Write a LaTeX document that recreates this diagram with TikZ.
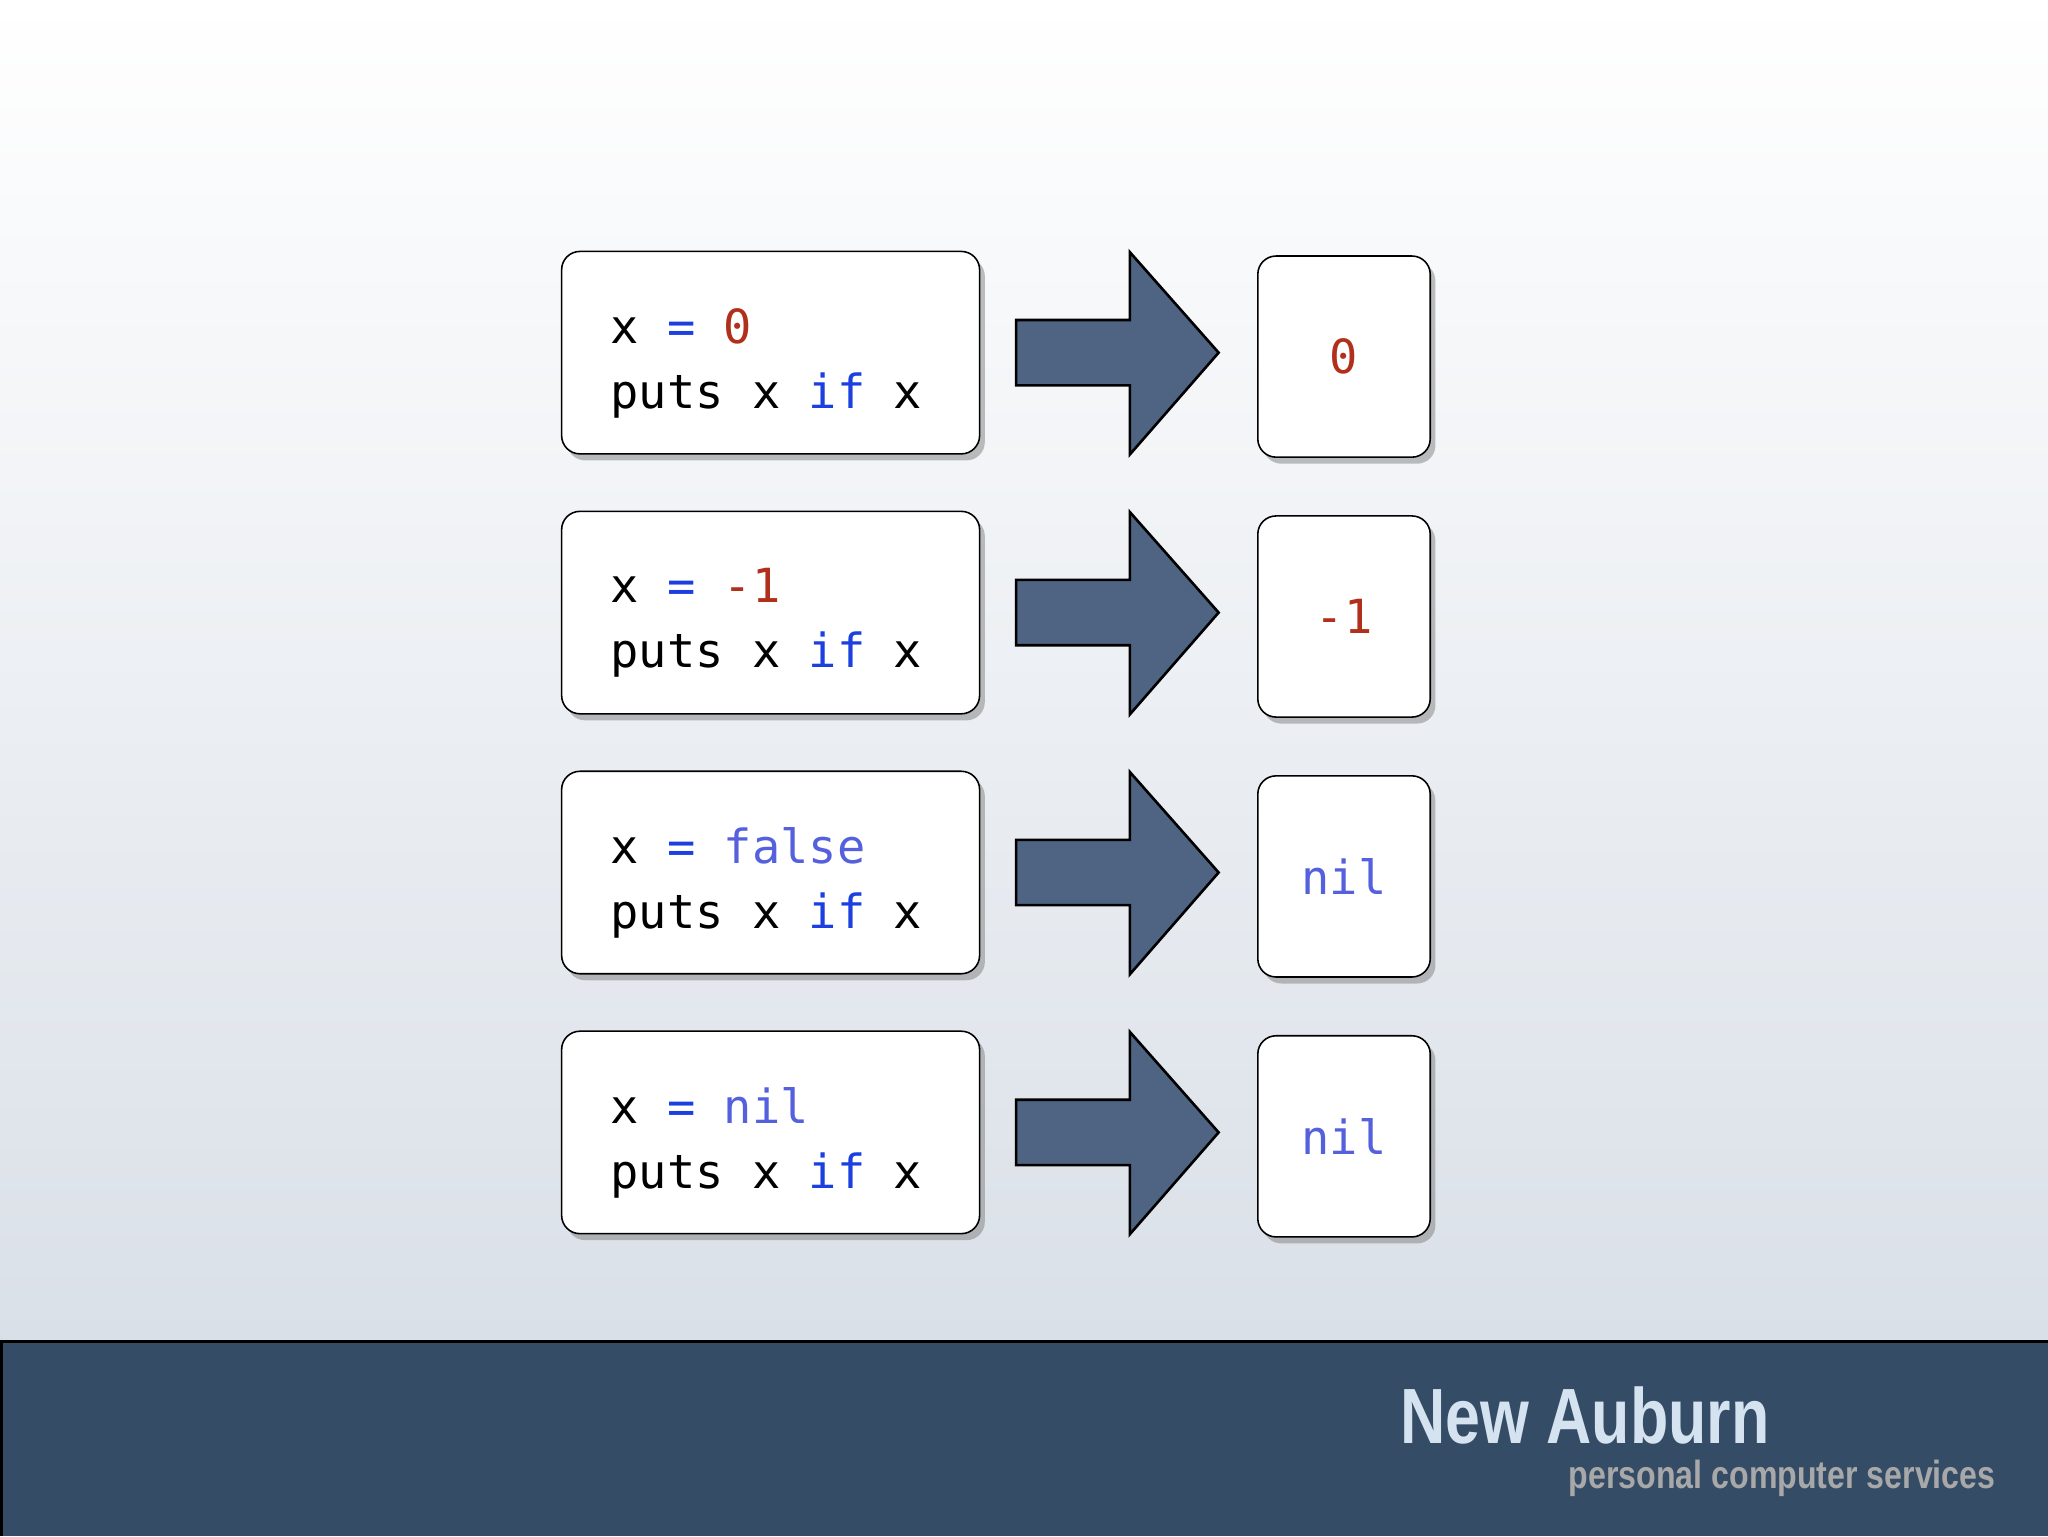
\documentclass[tikz,border=0pt]{standalone}
\usepackage{fontspec}
\setmonofont{DejaVu Sans Mono}
\setsansfont{Liberation Sans}
\usetikzlibrary{shadows}
\definecolor{rred}{HTML}{B0301C}
\definecolor{rblue}{HTML}{1C3FE0}
\definecolor{rlblue}{HTML}{5560DD}
\definecolor{arrowc}{HTML}{4E6482}
\definecolor{band}{HTML}{354C66}
\definecolor{logoc}{HTML}{D5E2F0}
\definecolor{subc}{HTML}{A8A8A8}
\tikzset{
 codebox/.style={draw=black, line width=1.2pt, fill=white, rounded corners=14pt, drop shadow={shadow xshift=4pt,shadow yshift=-5pt,opacity=0.5}},
 codetxt/.style={font=\ttfamily\fontsize{36}{50}\selectfont, anchor=west, align=left},
 bigarrow/.style={draw=black, line width=2pt, fill=arrowc, line join=miter}
}
\begin{document}
\begin{tikzpicture}[x=1pt,y=-1pt]
\useasboundingbox (0,0) rectangle (1568,1176);
\shade[top color=white, bottom color={rgb,255:red,218;green,224;blue,232}] (0,0) rectangle (1568,1027);
\fill[band] (0,1027) rectangle (1568,1176);
\draw[line width=2.5pt] (0,1027) -- (1568,1027);
\draw[line width=2pt] (1,1027) -- (1,1176);
\foreach \i/\a/\b/\r in {0/{\color{rred}0}/{\color{rred}0}/a, 1/{\color{rred}-1}/{\color{rred}-1}/b, 2/{\color{rlblue}false}/{\color{rlblue}nil}/c, 3/{\color{rlblue}nil}/{\color{rlblue}nil}/d}{
 \begin{scope}[yshift=-199*\i]
 \node[codebox, minimum width=320pt, minimum height=155pt] (L\r) at (590,270) {};
 \node[codetxt] (T\r) at (464,278) {x {\color{rblue}=} \a\\puts x {\color{rblue}if} x};
 \node[codebox, minimum width=132pt, minimum height=154pt] (R\r) at (1029,273) {};
 \node[font=\ttfamily\fontsize{36}{40}\selectfont] (V\r) at (R\r.center) {\b};
 \draw[bigarrow] (778,245) -- (865,245) -- (865,193) -- (933,270) -- (865,348) -- (865,295) -- (778,295) -- cycle;
 \end{scope}}
\node[font=\sffamily\bfseries\fontsize{60}{60}\selectfont, text=logoc, xscale=0.8, anchor=east, inner sep=0pt] (logo) at (1355,1084) {New Auburn};
\node[font=\sffamily\bfseries\fontsize{30}{30}\selectfont, text=subc, xscale=0.82, anchor=east, inner sep=0pt] (sub) at (1528,1132) {personal computer services};
\end{tikzpicture}
\end{document}
